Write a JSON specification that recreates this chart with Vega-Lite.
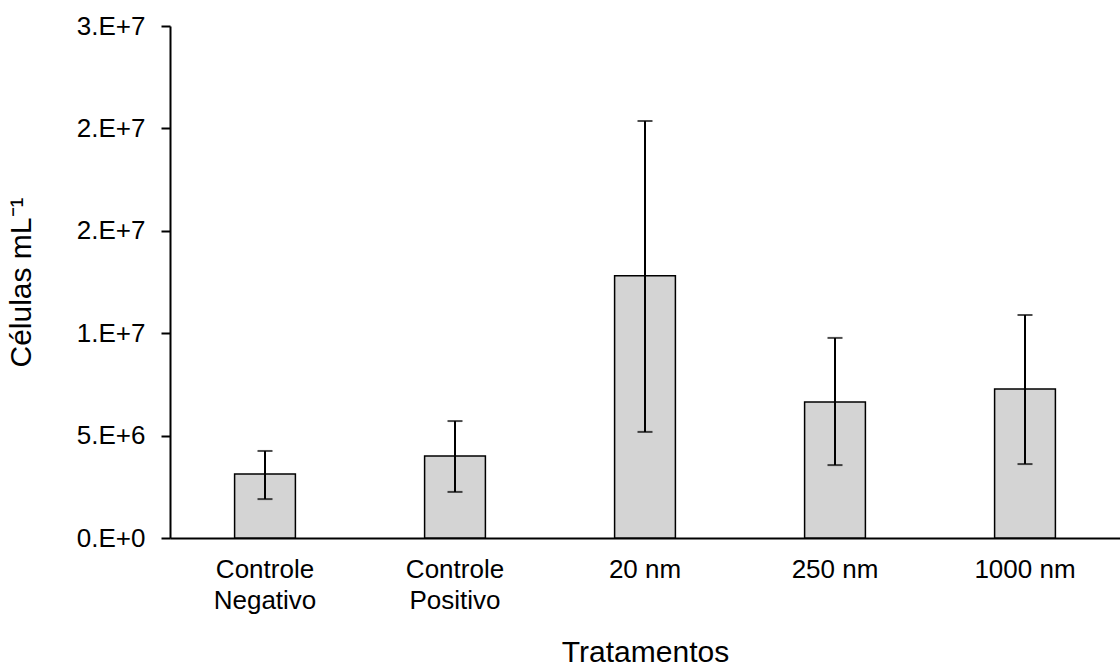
{
  "$schema": "https://vega.github.io/schema/vega-lite/v6.json",
  "width": 950,
  "height": 512,
  "autosize": {"type": "none"},
  "padding": {"left": 170, "top": 26, "right": 0, "bottom": 128},
  "background": "white",
  "config": {
    "view": {"stroke": null},
    "font": "Liberation Sans"
  },
  "data": {
    "values": [
      {"trat": "Controle Negativo", "media": 3130000, "lo": 1900000, "hi": 4250000},
      {"trat": "Controle Positivo", "media": 4010000, "lo": 2250000, "hi": 5710000},
      {"trat": "20 nm", "media": 12800000, "lo": 5180000, "hi": 20360000},
      {"trat": "250 nm", "media": 6640000, "lo": 3560000, "hi": 9770000},
      {"trat": "1000 nm", "media": 7280000, "lo": 3610000, "hi": 10890000}
    ]
  },
  "encoding": {
    "x": {
      "field": "trat",
      "type": "nominal",
      "sort": null,
      "scale": {"paddingInner": 0.68, "paddingOuter": 0.34},
      "axis": {
        "title": "Tratamentos",
        "titleFont": "Liberation Sans",
        "titleFontSize": 30,
        "titleFontWeight": "normal",
        "titleColor": "black",
        "titlePadding": 24,
        "labelAngle": 0,
        "labelFont": "Liberation Sans",
        "labelFontSize": 26,
        "labelColor": "black",
        "labelPadding": 18,
        "labelLineHeight": 31,
        "labelExpr": "indexof(datum.label, 'Controle') == 0 ? split(datum.label, ' ') : datum.label",
        "ticks": false,
        "domainColor": "black",
        "domainWidth": 2,
        "grid": false
      }
    }
  },
  "layer": [
    {
      "mark": {"type": "bar", "fill": "#d4d4d4", "stroke": "black", "strokeWidth": 1.5},
      "encoding": {
        "y": {
          "field": "media",
          "type": "quantitative",
          "scale": {"domain": [0, 25000000], "nice": false},
          "axis": {
            "title": "Células mL⁻¹",
            "titleFont": "Liberation Sans",
            "titleFontSize": 30,
            "titleFontWeight": "normal",
            "titleColor": "black",
            "titlePadding": 40,
            "values": [0, 5000000, 10000000, 15000000, 20000000, 25000000],
            "labelExpr": "datum.value == 0 ? '0.E+0' : datum.value == 5000000 ? '5.E+6' : datum.value == 10000000 ? '1.E+7' : datum.value == 25000000 ? '3.E+7' : '2.E+7'",
            "labelFont": "Liberation Sans",
            "labelFontSize": 26,
            "labelColor": "black",
            "labelPadding": 16,
            "tickSize": 9,
            "tickColor": "black",
            "tickWidth": 2,
            "domainColor": "black",
            "domainWidth": 2,
            "grid": false
          }
        }
      }
    },
    {
      "mark": {"type": "rule", "color": "black", "strokeWidth": 2},
      "encoding": {
        "y": {"field": "lo", "type": "quantitative"},
        "y2": {"field": "hi"}
      }
    },
    {
      "mark": {"type": "tick", "color": "black", "thickness": 2, "size": 15},
      "encoding": {"y": {"field": "lo", "type": "quantitative"}}
    },
    {
      "mark": {"type": "tick", "color": "black", "thickness": 2, "size": 15},
      "encoding": {"y": {"field": "hi", "type": "quantitative"}}
    }
  ]
}
